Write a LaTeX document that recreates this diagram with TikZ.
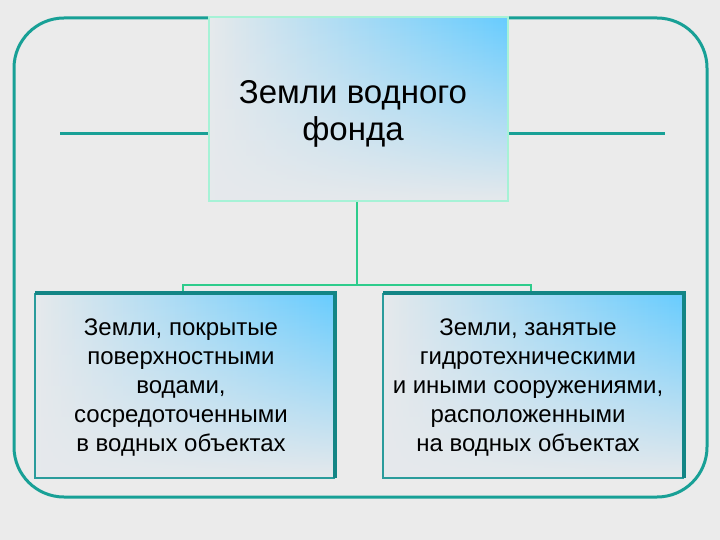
\documentclass[tikz,border=0pt]{standalone}
\usepackage{fontspec}
\setmainfont{Liberation Sans}
\usetikzlibrary{fadings}
\definecolor{bgc}{HTML}{EBEBEB}
\definecolor{frame}{HTML}{18A096}
\definecolor{conn}{HTML}{2ECC8C}
\definecolor{mint}{HTML}{A6F2D6}
\definecolor{darkteal}{HTML}{138585}
\definecolor{thinteal}{HTML}{2A9C9C}
\definecolor{boxgray}{HTML}{E6E9EC}
\definecolor{boxblue}{HTML}{66CCFF}
\tikzfading[name=fadedown, top color=transparent!0, middle color=transparent!25, bottom color=transparent!100]
\tikzset{
  gradbox/.style={fill=boxgray},
  blueover/.style={left color=boxgray, middle color=boxgray!65!boxblue, right color=boxblue, path fading=fadedown},
  framel/.style={draw=frame, line width=3pt},
  connl/.style={draw=conn, line width=2.4pt},
  toptext/.style={font=\fontsize{33}{37}\selectfont, align=center, text=black},
  subtext/.style={font=\fontsize{24}{29}\selectfont, align=center, text=black},
}
\begin{document}
\begin{tikzpicture}[x=1pt,y=-1pt]
\fill[bgc] (0,0) rectangle (720,540);
\useasboundingbox (0,0) rectangle (720,540);
% outer frame
\draw[framel, rounded corners=50pt] (14,18) rectangle (707,497);
% side lines
\coordinate (ll) at (60,134);
\coordinate (rr) at (665,134);
% top box
\fill[gradbox] (209,17) rectangle (508,201);
\shade[blueover] (209,17) rectangle (508,201);
\draw[mint, line width=2.8pt] (209,17) rectangle (508,201);
\node[toptext] (top) at (353,114) {Земли водного\\фонда};
\coordinate (tl) at (208,134);
\coordinate (tr) at (509,134);
\draw[framel] (ll) -- (tl);
\draw[framel] (tr) -- (rr);
% bottom boxes
\fill[gradbox] (35,293) rectangle (335,478);
\shade[blueover] (35,293) rectangle (335,478);
\draw[thinteal, line width=1.4pt] (335,478) -- (35,478) -- (35,293);
\draw[darkteal, line width=3.5pt] (35,293) -- (335,293) -- (335,478);
\node[subtext] (lb) at (181,388) {Земли, покрытые\\поверхностными\\водами,\\сосредоточенными\\в водных объектах};
\fill[gradbox] (383,293) rectangle (684,478);
\shade[blueover] (383,293) rectangle (684,478);
\draw[thinteal, line width=1.4pt] (684,478) -- (383,478) -- (383,293);
\draw[darkteal, line width=3.5pt] (383,293) -- (684,293) -- (684,478);
\node[subtext] (rb) at (528,388) {Земли, занятые\\гидротехническими\\и иными сооружениями,\\расположенными\\на водных объектах};
% connectors
\coordinate (tb) at (357,202);
\coordinate (j) at (357,285);
\coordinate (jl) at (183,285);
\coordinate (jr) at (531,285);
\coordinate (bl) at (183,291);
\coordinate (br) at (531,291);
\draw[connl] (tb) -- (j);
\draw[connl] (bl) -- (jl) -- (jr) -- (br);
\end{tikzpicture}
\end{document}
